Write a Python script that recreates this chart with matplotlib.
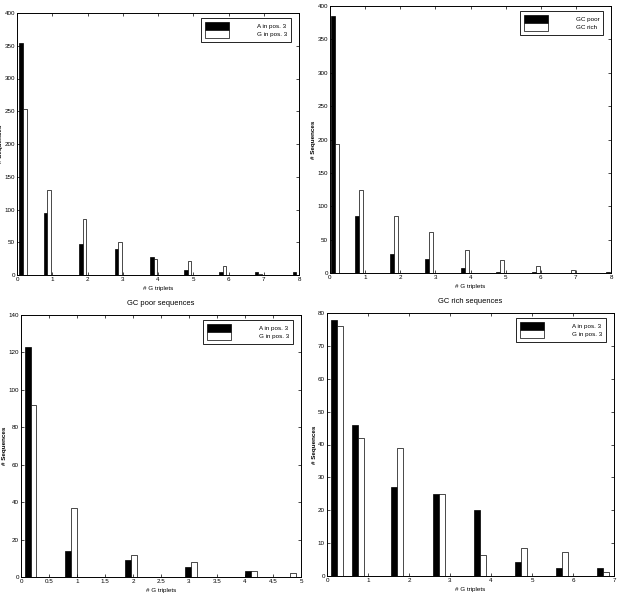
# Histograms of G triplet counts (four panels, MATLAB-style scan)
import matplotlib
matplotlib.use("Agg")
import matplotlib.pyplot as plt
import numpy as np

plt.rcParams["font.family"] = ["Liberation Sans", "DejaVu Sans"]
plt.rcParams["font.size"] = 4.5

# Top left: A vs G in pos. 3 (all sequences)
tl_x = [0.17, 0.86, 1.87, 2.87, 3.88, 4.85, 5.84, 6.84, 7.92]
tl_a = [354, 95, 48, 40, 28, 8, 5, 4, 4]
tl_g = [254, 130, 86, 51, 24, 22, 13, 2, 0]

# Top right: GC poor vs GC rich
tr_x = [0.14, 0.82, 1.82, 2.81, 3.84, 4.85, 5.87, 6.87, 7.96]
tr_poor = [385, 86, 28, 21, 7.5, 1.5, 2, 0, 1]
tr_rich = [193, 125, 86, 61, 35, 19, 11, 4, 0]

# Bottom left: GC poor sequences
bl_x = [0.17, 0.89, 1.96, 3.04, 4.11, 4.81]
bl_a = [123, 14, 9, 5.3, 3.2, 0]
bl_g = [92, 37, 12, 8.2, 3.2, 2.3]

# Bottom right: GC rich sequences
br_x = [0.24, 0.75, 1.71, 2.73, 3.73, 4.74, 5.74, 6.73]
br_a = [78, 46, 27, 25, 20, 4.3, 2.3, 2.3]
br_g = [76, 42, 39, 25, 6.3, 8.4, 7.4, 1.3]

W, H = 618, 611
fig = plt.figure(figsize=(W / 100, H / 100), dpi=100)


def make_ax(left, top, right, bottom):
    ax = fig.add_axes([left / W, 1 - bottom / H, (right - left) / W, (bottom - top) / H])
    ax.px = (right - left, bottom - top)
    return ax


def panel(ax, x, s1, s2, w, labels, xlim, xticks, ylim, yticks, title=None):
    x = np.array(x)
    ax.bar(x - w, s1, width=w, align="edge", color="black", edgecolor="black", lw=0.5, label=labels[0])
    ax.bar(x, s2, width=w, align="edge", color="white", edgecolor="black", lw=0.5, label=labels[1])
    ax.set_xlim(*xlim)
    ax.set_ylim(*ylim)
    ax.set_xticks(xticks)
    ax.set_yticks(yticks)
    ax.xaxis.set_major_formatter(matplotlib.ticker.FormatStrFormatter("%g"))
    ax.tick_params(direction="in", length=2, width=0.5, top=True, right=True, pad=1.5)
    for sp in ax.spines.values():
        sp.set_linewidth(0.7)
    ax.set_xlabel("# G triplets", labelpad=2.5)
    ax.set_ylabel("# Sequences", labelpad=1, fontweight="bold")
    if title:
        ax.set_title(title, pad=7)
    aw, ah = ax.px
    leg = ax.legend(loc="upper right", bbox_to_anchor=(1 - 8 / aw, 1 - 5 / ah),
                    fancybox=False, edgecolor="black", framealpha=1,
                    handlelength=3.8, handleheight=1.6, labelspacing=0, handletextpad=4.5,
                    borderpad=0.6, borderaxespad=0)
    leg.get_frame().set_linewidth(0.6)
    return ax


ax1 = make_ax(17, 13, 299, 275)
panel(ax1, tl_x, tl_a, tl_g, 0.1, ["A in pos. 3", "G in pos. 3"], (0, 8), range(0, 9),
      (0, 400), range(0, 401, 50))

ax2 = make_ax(330, 6, 611, 273)
panel(ax2, tr_x, tr_poor, tr_rich, 0.11, ["GC poor", "GC rich"], (0, 8), range(0, 9),
      (0, 400), range(0, 401, 50))

ax3 = make_ax(21, 315, 301, 577)
panel(ax3, bl_x, bl_a, bl_g, 0.105, ["A in pos. 3", "G in pos. 3"], (0, 5), np.arange(0, 5.01, 0.5),
      (0, 140), range(0, 141, 20), title="GC poor sequences")

ax4 = make_ax(327, 313, 614, 576)
panel(ax4, br_x, br_a, br_g, 0.145, ["A in pos. 3", "G in pos. 3"], (0, 7), range(0, 8),
      (0, 80), range(0, 81, 10), title="GC rich sequences")

fig.savefig("out.png", dpi=100)
